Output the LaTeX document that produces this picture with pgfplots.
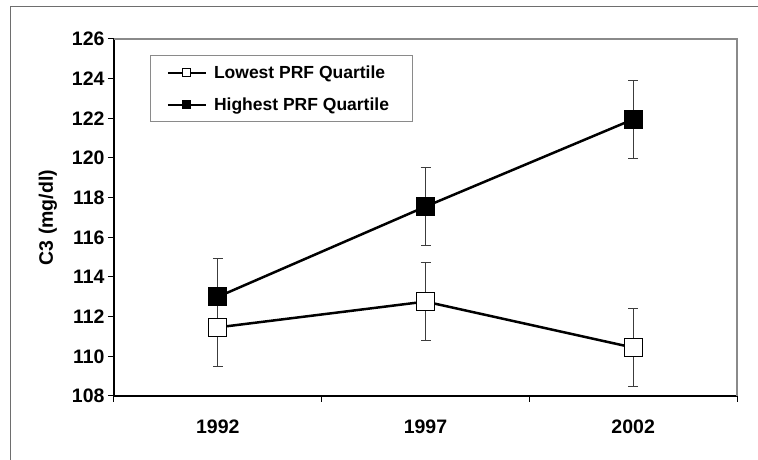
\documentclass[border=0pt]{standalone}
\usepackage{pgfplots}
\pgfplotsset{compat=1.18}
\usepackage{fontspec}
\setmainfont{Liberation Sans}
\definecolor{errgray}{HTML}{3C3C3C}
\definecolor{boxgray}{HTML}{8A8A8A}

\pgfplotstableread{
x y err
1 111.46 1.97
2 112.76 1.96
3 110.44 1.96
}\lowest
\pgfplotstableread{
x y err
1 113.00 1.95
2 117.55 1.97
3 121.95 1.97
}\highest

\begin{document}
\begin{tikzpicture}
\path[use as bounding box] (-114pt,-64pt) rectangle (644pt,396pt);
\draw[boxgray!80!black, line width=1pt] (-103pt,-70pt) -- (-103pt,389pt) -- (650pt,389pt);
\begin{axis}[
  at={(0pt,0pt)}, anchor=south west,
  scale only axis, width=623pt, height=357pt,
  xmin=0.5, xmax=3.5, ymin=108, ymax=126,
  axis x line*=bottom, axis y line*=left,
  axis line style={-, line width=1.2pt, black},
  clip=false,
  ytick={108,110,...,126},
  xtick={0.5,1.5,2.5,3.5}, xticklabels={},
  extra x ticks={1,2,3}, extra x tick labels={1992,1997,2002},
  extra x tick style={major tick length=0pt, tick label style={yshift=-20pt}},
  tick align=outside, major tick length=6pt,
  tick style={black, line width=1pt},
  /pgf/number format/assume math mode=true,
  tick label style={font=\fontsize{19.5}{19.5}\selectfont\bfseries},
  ylabel={C3 (mg/dl)},
  ylabel style={at={(rel axis cs:-0.106,0.5)}, anchor=center,
    font=\fontsize{19.5}{19.5}\selectfont\bfseries},
  legend cell align=left,
  legend style={at={(rel axis cs:0.0578,0.955)}, anchor=north west,
    draw=boxgray, line width=1pt, inner xsep=16pt, inner ysep=8pt,
    row sep=14pt, font=\fontsize{17.5}{17.5}\selectfont\bfseries},
  legend image code/.code={
    \path (0pt,0pt) (43pt,0pt);
    \draw[mark repeat=2, mark phase=2, #1, line width=2pt, mark size=4pt]
      plot coordinates {(0pt,0pt) (19pt,0pt) (38pt,0pt)};
  },
]
% error bars first, so the markers sit on top of them
\addplot[forget plot, only marks, mark=none,
  error bars/.cd, y dir=both, y explicit,
  error bar style={errgray, line width=1.2pt},
  error mark options={rotate=90, mark size=5pt, errgray, line width=1.2pt}]
  table[x=x, y=y, y error=err]{\lowest};
\addplot[forget plot, only marks, mark=none,
  error bars/.cd, y dir=both, y explicit,
  error bar style={errgray, line width=1.2pt},
  error mark options={rotate=90, mark size=5pt, errgray, line width=1.2pt}]
  table[x=x, y=y, y error=err]{\highest};

\addplot[black, line width=2.5pt, mark=square*, mark size=9pt,
  mark options={fill=white, draw=black, line width=1pt}]
  table[x=x, y=y]{\lowest};
\addlegendentry{Lowest PRF Quartile}
\addplot[black, line width=2.5pt, mark=square*, mark size=9pt,
  mark options={fill=black, draw=black, line width=1pt}]
  table[x=x, y=y]{\highest};
\addlegendentry{Highest PRF Quartile\hspace*{5pt}}

\draw[boxgray, line width=1.2pt] (rel axis cs:0,1) -- (rel axis cs:1,1) -- (rel axis cs:1,0);
\end{axis}
\end{tikzpicture}
\end{document}
